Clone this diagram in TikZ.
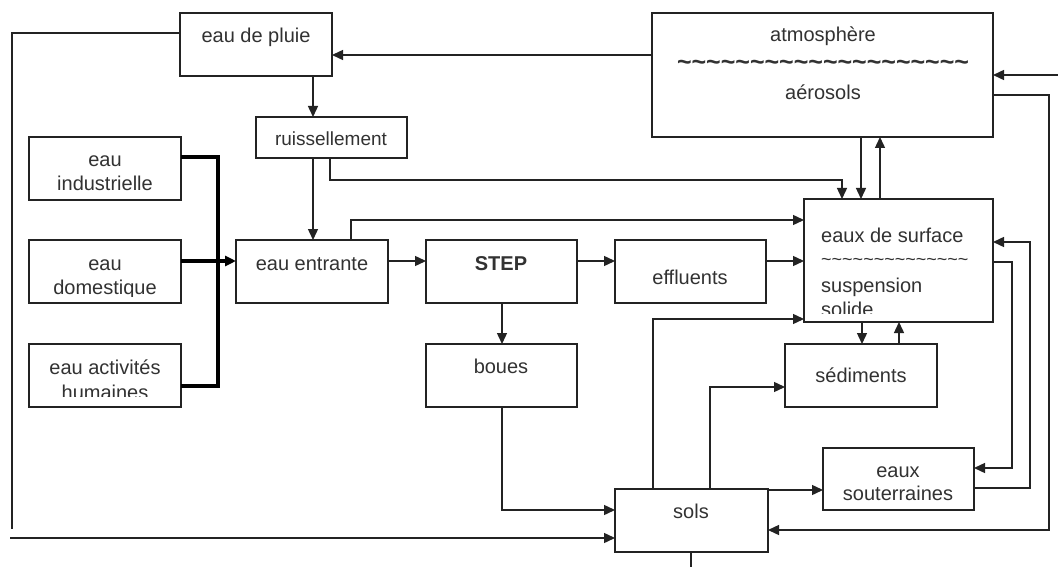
\documentclass[tikz,border=0pt]{standalone}
\usepackage{fontspec}
\setmainfont{Liberation Sans}
\usetikzlibrary{arrows.meta}
\definecolor{ln}{RGB}{35,35,35}
\definecolor{tx}{RGB}{50,50,50}
\newcount\tildec
\newcommand\tildes[1]{\tildec=0 \loop\ifnum\tildec<#1 \char126\advance\tildec 1 \repeat}
\newcommand\mkbox[5]{\node[box, minimum width={#4pt-#2pt}, minimum height={#5pt-#3pt}] (#1) at (#2,#3) {};}
\tikzset{
  box/.style={draw=ln, line width=1.6pt, inner sep=0pt, outer sep=0pt, anchor=north west},
  lbl/.style={anchor=base, inner sep=0pt, text=tx, font=\fontsize{20}{24}\selectfont},
  lblw/.style={lbl, anchor=base west},
  conn/.style={draw=ln, line width=1.4pt},
  arr/.style={conn, -{Triangle[length=11pt,width=10pt]}},
  bus/.style={draw=black, line width=3.5pt},
}
\begin{document}
\begin{tikzpicture}[x=1pt,y=-1pt]
\fill[white] (0,0) rectangle (1058,567);
\useasboundingbox (0,0) rectangle (1058,567);
% boxes
\mkbox{pluie}{180}{13}{332}{76}
\mkbox{atmo}{652}{13}{993}{137}
\mkbox{ruis}{256}{117}{407}{158}
\mkbox{ind}{29}{137}{181}{200}
\mkbox{dom}{29}{240}{181}{303}
\mkbox{act}{29}{344}{181}{407}
\mkbox{ent}{236}{240}{388}{303}
\mkbox{step}{426}{240}{577}{303}
\mkbox{eff}{615}{240}{766}{303}
\mkbox{surf}{804}{199}{993}{322}
\mkbox{boues}{426}{344}{577}{407}
\mkbox{sed}{785}{344}{937}{407}
\mkbox{sout}{823}{448}{974}{510}
\mkbox{sols}{615}{489}{768}{552}
% texts
\node[lbl] (tpluie) at (256,43) {eau de pluie};
\node[lbl] (tatmo1) at (823,42) {atmosphère};
\node[lbl, font=\fontsize{25}{25}\selectfont\bfseries] (tatmo2) at (823,71) {\tildes{20}};
\node[lbl] (tatmo3) at (823,100) {aérosols};
\node[lbl, font=\fontsize{19}{24}\selectfont] (truis) at (331,146) {ruissellement};
\node[lbl] (tind1) at (105,167) {eau};
\node[lbl] (tind2) at (105,190) {industrielle};
\node[lbl] (tdom1) at (105,270) {eau};
\begin{scope}
\clip (29,240) rectangle (181,296);
\node[lbl] (tdom2) at (105,294) {domestique};
\end{scope}
\node[lbl] (tact1) at (105,374) {eau activités};
\begin{scope}
\clip (29,344) rectangle (181,396);
\node[lbl] (tact2) at (105,399) {humaines};
\end{scope}
\node[lbl] (tent) at (312,270) {eau entrante};
\node[lbl, font=\fontsize{20}{24}\selectfont\bfseries] (tstep) at (501,270) {STEP};
\node[lbl] (teff) at (690,284) {effluents};
\node[lblw] (tsurf1) at (821,242) {eaux de surface};
\node[lblw, font=\fontsize{18}{18}\selectfont] (tsurf2) at (821,265) {\tildes{14}};
\begin{scope}
\clip (804,199) rectangle (993,313);
\node[lblw] (tsurf3) at (821,292) {suspension};
\node[lblw] (tsurf4) at (821,316) {solide};
\end{scope}
\node[lbl] (tboues) at (501,373) {boues};
\node[lbl] (tsed) at (861,382) {sédiments};
\node[lbl] (tsout1) at (898,477) {eaux};
\node[lbl] (tsout2) at (898,500) {souterraines};
\node[lbl] (tsols) at (691,518) {sols};
% helper levels
\foreach \v in {33,55,75,95,157,180,220,242,261,262,319,386,387,468,488,490,510,530}
  {\coordinate (h\v) at (0,\v);}
\foreach \v in {218,313,330,351,502,653,710,842,861,862,880,899,1012,1030,1049}
  {\coordinate (v\v) at (\v,0);}
\coordinate (lc) at (12,529);
\coordinate (lin) at (10,538);
\coordinate (rin) at (1058,75);
\coordinate (bot) at (691,567);
% connectors
\draw[arr] (atmo.west |- h55) -- (pluie.east |- h55);
\draw[conn] (pluie.west |- h33) -| (lc);
\draw[arr] (lin) -- (sols.west |- lin);
\draw[arr] (pluie.south -| v313) -- (ruis.north -| v313);
\draw[arr] (ruis.south -| v313) -- (ent.north -| v313);
\draw[arr] (ruis.south -| v330) |- (h180 -| v842) -- (surf.north -| v842);
\draw[arr] (atmo.south -| v861) -- (surf.north -| v861);
\draw[arr] (surf.north -| v880) -- (atmo.south -| v880);
\draw[bus] (ind.east |- h157) -| (v218 |- h386) -- (act.east |- h386);
\draw[bus, -{Triangle[length=11pt,width=10pt]}] (dom.east |- h261) -- (ent.west |- h261);
\draw[arr] (ent.east |- h261) -- (step.west |- h261);
\draw[arr] (step.east |- h261) -- (eff.west |- h261);
\draw[arr] (eff.east |- h261) -- (surf.west |- h261);
\draw[arr] (ent.north -| v351) |- (surf.west |- h220);
\draw[arr] (step.south -| v502) -- (boues.north -| v502);
\draw[arr] (boues.south -| v502) |- (sols.west |- h510);
\draw[arr] (sols.north -| v653) |- (surf.west |- h319);
\draw[arr] (sols.north -| v710) |- (sed.west |- h387);
\draw[arr] (surf.south -| v862) -- (sed.north -| v862);
\draw[arr] (sed.north -| v899) -- (surf.south -| v899);
\draw[arr] (sols.east |- h490) -- (sout.west |- h490);
\draw[arr] (surf.east |- h262) -| (v1012 |- h468) -- (sout.east |- h468);
\draw[arr] (sout.east |- h488) -| (v1030 |- h242) -- (surf.east |- h242);
\draw[arr] (atmo.east |- h95) -| (v1049 |- h530) -- (sols.east |- h530);
\draw[arr] (rin) -- (atmo.east |- rin);
\draw[conn] (sols.south -| bot) -- (bot);
\end{tikzpicture}
\end{document}
